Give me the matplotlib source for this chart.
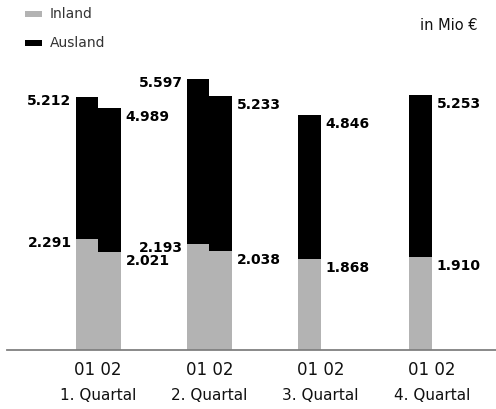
import matplotlib

matplotlib.use("Agg")
import matplotlib.pyplot as plt
from matplotlib.patches import Rectangle
from matplotlib.transforms import offset_copy

# values in Mio EUR (01 = 2001, 02 = 2002)
quarters = ["1. Quartal", "2. Quartal", "3. Quartal", "4. Quartal"]
year_labels = "01 02"
total_01 = [5212, 5597, 4846, 5253]
inland_01 = [2291, 2193, 1868, 1910]
total_02 = [4989, 5233]       # 2002 only has Q1 and Q2
inland_02 = [2021, 2038]

GRAY = "#b3b3b3"
TXT = "#111111"
W, H = 496, 409


def fmt(v):
    # German thousands separator
    return f"{v / 1000:.3f}"


def px(x, y):
    """pixel coords (top-left origin) -> figure fraction"""
    return x / W, 1 - y / H


fig = plt.figure(figsize=(W / 100, H / 100), dpi=100)
ax = fig.add_axes([7 / W, (H - 350) / H, (W - 7) / W, 291 / H])
ax.set_xlim(-0.818, 3.576)
ax.set_ylim(0, 6000)
bw = 0.202

for i, q in enumerate(quarters):
    x01 = i - bw / 2
    ax.bar(x01, inland_01[i], width=bw, color=GRAY, lw=0)
    ax.bar(x01, total_01[i] - inland_01[i], bottom=inland_01[i], width=bw,
           color="black", lw=0)
    has_02 = i < len(total_02)
    if has_02:
        x02 = i + bw / 2
        ax.bar(x02, inland_02[i], width=bw, color=GRAY, lw=0)
        ax.bar(x02, total_02[i] - inland_02[i], bottom=inland_02[i], width=bw,
               color="black", lw=0)

    # value labels
    if has_02:
        for v in (total_01[i], inland_01[i]):
            tr = offset_copy(ax.transData, fig=fig, x=-4, y=-4, units="dots")
            ax.text(x01 - bw / 2, v, fmt(v), ha="right", va="center",
                    fontsize=10, fontweight="bold", color="black", transform=tr)
        right_x, right_vals = x02 + bw / 2, (total_02[i], inland_02[i])
    else:
        right_x, right_vals = x01 + bw / 2, (total_01[i], inland_01[i])
    for v in right_vals:
        tr = offset_copy(ax.transData, fig=fig, x=5, y=-2, units="dots")
        ax.text(right_x, v, fmt(v), ha="left", va="top",
                fontsize=10, fontweight="bold", color="black", transform=tr)

    # category labels
    cx = (98 + i * 111.3)
    fig.text(*px(cx, 370), year_labels, ha="center", va="center",
             fontsize=12, color=TXT)
    fig.text(*px(cx, 396), q, ha="center", va="center", fontsize=11, color=TXT)

ax.set_xticks([])
ax.set_yticks([])
for s in ("top", "left", "right"):
    ax.spines[s].set_visible(False)
ax.spines["bottom"].set_color("#808080")
ax.spines["bottom"].set_linewidth(1.3)

# legend
for y0, col, lab in ((11, GRAY, "Inland"), (40, "black", "Ausland")):
    x, y = px(25, y0 + 6)
    fig.patches.append(Rectangle((x, y), 17 / W, 6 / H, transform=fig.transFigure,
                                 color=col, lw=0))
    fig.text(*px(50, y0 + 3), lab, ha="left", va="center", fontsize=10, color="#333333")

fig.text(*px(477, 25), "in Mio €", ha="right", va="center", fontsize=10.5, color=TXT)

fig.savefig("out.png", dpi=100)
